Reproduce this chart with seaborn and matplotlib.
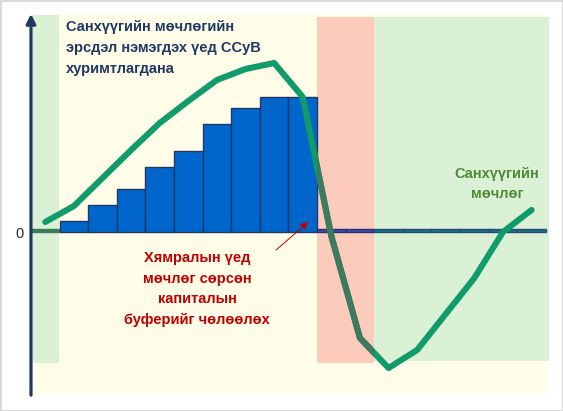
import numpy as np
import seaborn as sns
import matplotlib
matplotlib.use('Agg')
from matplotlib import pyplot as plt
from matplotlib.patches import Rectangle

# slots along the cycle, buffer (bars) and financial cycle (line), in chart units
slots = list(range(18))
buffer_vals = [3, 11, 27, 43, 65, 81, 108, 124, 135, 135, 3, 3, 3, 3, 3, 3, 3, 3]
cycle_vals = [10, 26, 54, 82, 109, 131, 152, 163, 169, 135, -4, -106, -136, -118, -82, -46, 0, 22]

text_build = 'Санхүүгийн мөчлөгийн\nэрсдэл нэмэгдэх үед ССуВ\nхуримтлагдана'
text_release = 'Хямралын үед\nмөчлөг сөрсөн\nкапиталын\nбуферийг чөлөөлөх'
text_cycle = 'Санхүүгийн\nмөчлөг'

navy = '#1F3864'
cream = '#FFFCE8'
light_green = '#DAF1D6'
salmon = '#FDCBBB'
line_green = '#109B6B'
line_dark = '#3F7A5E'

sns.set_style('white')
plt.rcParams['font.family'] = ['Liberation Sans', 'DejaVu Sans']

W, H = 563, 411
fig = plt.figure(figsize=(W / 100, H / 100), dpi=100)
fig.patch.set_edgecolor('#D9D9D9')
fig.patch.set_linewidth(2)
ax = fig.add_axes([31 / W, (H - 394) / H, (549 - 31) / W, (394 - 15) / H])

# bars
sns.barplot(x=slots, y=buffer_vals, color='#0066CC', width=1.0,
            edgecolor=navy, linewidth=1, ax=ax, zorder=3)
bar_fill = ['#3C7A5C'] + ['#0066CC'] * 9 + ['#3B4FA6'] * 2 + ['#23707A'] * 6
bar_edge = ['#3C7A5C'] + [navy] * 9 + ['#2A2F7A'] * 2 + ['#1F4E79'] * 6
for patch, fc, ec in zip(ax.containers[0], bar_fill, bar_edge):
    patch.set_facecolor(fc)
    patch.set_edgecolor(ec)

# backgrounds
ax.add_patch(Rectangle((-0.43, -162), 17.97, 380, color=cream, zorder=0, lw=0))
ax.add_patch(Rectangle((-0.43, -131), 0.91, 349, color=light_green, zorder=1, lw=0))
crisis = Rectangle((9.5, -131), 2.0, 346, color=salmon, zorder=1, lw=0)
ax.add_patch(crisis)
ax.add_patch(Rectangle((11.5, -129), 6.11, 344, color=light_green, zorder=1, lw=0))

# cycle line, darker where it crosses the crisis band
sns.lineplot(x=slots, y=cycle_vals, color=line_green, linewidth=4.4,
             solid_capstyle='round', ax=ax, zorder=4)
sns.lineplot(x=slots, y=cycle_vals, color=line_dark, linewidth=4.4,
             solid_capstyle='round', ax=ax, zorder=5)
ax.lines[-1].set_clip_path(crisis)

ax.set_xlim(-0.5, 17.61)
ax.set_ylim(-162, 217)
ax.set_xticks([])
ax.set_yticks([0])
ax.set_yticklabels(['0'], fontsize=10.5)
ax.tick_params(axis='y', length=0, pad=5)
ax.set_xlabel('')
ax.set_ylabel('')
for s in ax.spines.values():
    s.set_visible(False)
ax.set_facecolor('white')

# vertical axis with arrow
ax.annotate('', xy=(0, 1.003), xytext=(0, -0.003), xycoords='axes fraction',
            arrowprops=dict(arrowstyle='-|>', color=navy, lw=2.3,
                            mutation_scale=14, shrinkA=0, shrinkB=0))

# pointer to released buffer
ax.annotate('', xy=(9.19, 10), xytext=(8.07, -18),
            arrowprops=dict(arrowstyle='-|>', color='#C00000', lw=0.7,
                            mutation_scale=11, shrinkA=0, shrinkB=0), zorder=6)

fig.text(66 / W, 1 - 20 / H, text_build, color=navy, fontsize=10.5,
         fontweight='bold', ha='left', va='top', linespacing=1.62)
fig.text(197 / W, 1 - 289 / H, text_release, color='#C00000', fontsize=10.5,
         fontweight='bold', ha='center', va='center', linespacing=1.6)
fig.text(497 / W, 1 - 184 / H, text_cycle, color='#4F8A35', fontsize=10.5,
         fontweight='bold', ha='center', va='center', linespacing=1.55)

fig.savefig('out.png', dpi=100)
